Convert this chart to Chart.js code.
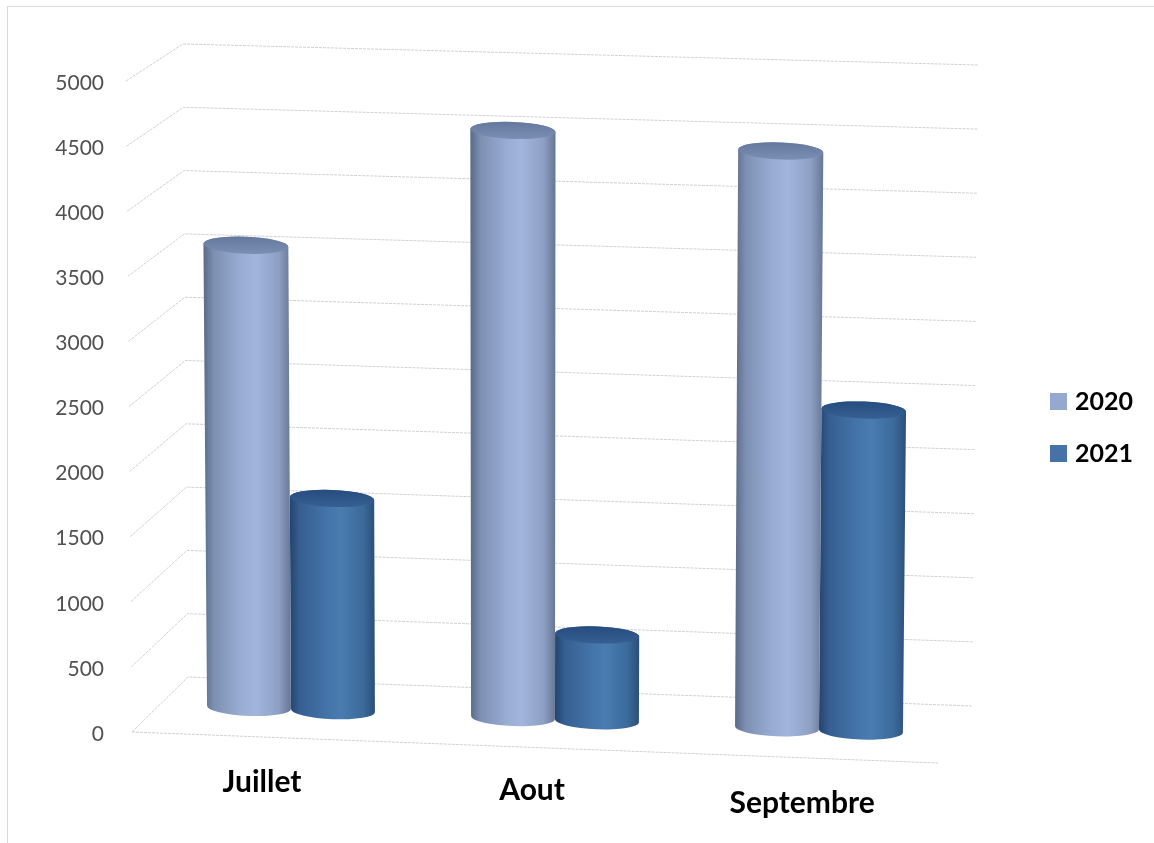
<!DOCTYPE html>
<html>
<head>
<meta charset="utf-8">
<title>Juillet - Septembre</title>
<script src="https://cdn.jsdelivr.net/npm/chart.js@4/dist/chart.umd.min.js"></script>
<style>
    html, body { margin: 0; padding: 0; background: #fff; }
    #frame { position: absolute; left: 7px; top: 6px; width: 1147px; height: 837px; box-sizing: border-box;
             border-left: 1px solid #d9d9d9; border-top: 1px solid #d9d9d9; }
    canvas { position: absolute; left: 0; top: 0; }
</style>
</head>
<body>
<div id="frame"></div>
<canvas id="myChart" width="1154" height="843"></canvas>
<script>
var categories = ['Juillet', 'Aout', 'Septembre'];
var seriesNames = ['2020', '2021'];
var values2020 = [3550, 4510, 4430];
var values2021 = [1630, 660, 2465];
var yTickStep = 500;
var yMax = 5000;

// cylinder shading, left to right
var shade2020 = ['#5a6a88', '#7d90b2', '#98acd4', '#a2b5dd', '#8d9fc3', '#667695'];
var shade2021 = ['#24446d', '#365f92', '#4373a8', '#4a7cb1', '#3b6a9b', '#2b4f78'];
var capTop = ['#64789d', '#274d7f'];
var capBottom = ['#7b8fb4', '#365f92'];
var legendColors = ['#95a9d0', '#4672a8'];
var shadeStops = [0, 0.12, 0.42, 0.6, 0.86, 1];
var labelNudgeY = [0, -2, 0];

var SLOPE = 0.0385; // the whole floor runs downhill to the right
var ZERO_Y = 734;   // scale sits 2px low so the tick text lines up, grid takes it back out
var FULL_H = 651;

function project(x, y) {
    var rise = ZERO_Y - y;
    return {
        x: x + (x - 520) * rise * 0.000025,
        y: y - 31 + (x - 133) * SLOPE
    };
}

// bars are drawn as cylinders, geometry still comes from the bar controller
Chart.BarElement.prototype.draw = function (ctx) {
    var p = this.getProps(['x', 'y', 'base', 'width']);
    var idx = legendColors.indexOf(this.options.backgroundColor);
    var stops = idx === 0 ? shade2020 : shade2021;
    var half = p.width / 2;
    var tl = project(p.x - half, p.y), tr = project(p.x + half, p.y);
    var bl = project(p.x - half, p.base), br = project(p.x + half, p.base);
    var ry = 8.5, tilt = Math.atan(SLOPE);
    var grad = ctx.createLinearGradient(Math.min(tl.x, bl.x), 0, Math.max(tr.x, br.x), 0);
    stops.forEach(function (c, i) { grad.addColorStop(shadeStops[i], c); });

    ctx.save();
    ctx.filter = 'blur(0.7px)';
    ctx.fillStyle = grad;
    ctx.beginPath();
    ctx.moveTo(tl.x, tl.y);
    ctx.lineTo(bl.x, bl.y);
    ctx.ellipse((bl.x + br.x) / 2, (bl.y + br.y) / 2, (br.x - bl.x) / 2, ry, tilt, Math.PI, 0, true);
    ctx.lineTo(tr.x, tr.y);
    ctx.ellipse((tl.x + tr.x) / 2, (tl.y + tr.y) / 2, (tr.x - tl.x) / 2, ry, tilt, 0, Math.PI, true);
    ctx.closePath();
    ctx.fill();

    var cy = (tl.y + tr.y) / 2;
    var capGrad = ctx.createLinearGradient(0, cy - ry, 0, cy + ry);
    capGrad.addColorStop(0, capTop[idx]);
    capGrad.addColorStop(1, capBottom[idx]);
    ctx.fillStyle = capGrad;
    ctx.beginPath();
    ctx.ellipse((tl.x + tr.x) / 2, cy, (tr.x - tl.x) / 2, ry, tilt, 0, Math.PI * 2);
    ctx.fill();
    ctx.restore();
};

var perspectiveGrid = {
    id: 'perspectiveGrid',
    afterLayout: function (chart) {
        // legend sits well right of the plot (its cursor starts at left/top + labels.padding)
        var lg = chart.legend;
        lg.left = 1023; lg.right = 1133; lg.top = 362; lg.bottom = 600;
    },
    beforeDatasetsDraw: function (chart) {
        var ctx = chart.ctx, yScale = chart.scales.y;
        ctx.save();
        ctx.strokeStyle = '#d0d0d0';
        ctx.lineWidth = 1;
        ctx.setLineDash([3, 1]);
        yScale.ticks.forEach(function (tick) {
            var py = yScale.getPixelForValue(tick.value);
            var t = (ZERO_Y - py) / FULL_H;
            ctx.beginPath();
            ctx.moveTo(132 - 6 * t, py - 2);
            ctx.lineTo(188 - 5 * t, 677 - 633 * t);
            ctx.lineTo(972 + 6 * t, 706 - 641 * t);
            ctx.stroke();
        });
        // front edge of the floor
        var py0 = yScale.getPixelForValue(0) - 2;
        ctx.beginPath();
        ctx.moveTo(132, py0);
        ctx.lineTo(938, py0 + 31);
        ctx.stroke();
        ctx.restore();
    },
    afterDraw: function (chart) {
        var ctx = chart.ctx, xScale = chart.scales.x;
        ctx.save();
        ctx.font = 'bold 30px Lato';
        ctx.fillStyle = '#000';
        ctx.textAlign = 'center';
        ctx.textBaseline = 'middle';
        categories.forEach(function (name, i) {
            var cx = xScale.getPixelForTick(i);
            ctx.fillText(name, cx - 29 + (cx - 291) * 0.023, 782 + (cx - 291) * 0.0398 + labelNudgeY[i]);
        });
        ctx.restore();
    }
};

var ctx = document.getElementById('myChart').getContext('2d');
new Chart(ctx, {
    type: 'bar',
    data: {
        labels: categories,
        datasets: [
            { label: seriesNames[0], data: values2020, backgroundColor: legendColors[0], clip: false },
            { label: seriesNames[1], data: values2021, backgroundColor: legendColors[1], clip: false }
        ]
    },
    plugins: [perspectiveGrid],
    options: {
        responsive: false,
        animation: false,
        barPercentage: 1,
        categoryPercentage: 0.636,
        layout: { padding: { top: 83, bottom: 109, left: 0, right: 143 } },
        plugins: {
            tooltip: { enabled: false },
            legend: {
                position: 'right',
                align: 'start',
                maxWidth: 60,
                labels: {
                    boxWidth: 17,
                    boxHeight: 17,
                    padding: 27,
                    textAlign: 'right',
                    color: '#000',
                    font: { family: 'Lato', size: 25, weight: 'bold' }
                }
            }
        },
        scales: {
            x: {
                ticks: { display: false },
                grid: { display: false, drawTicks: false },
                border: { display: false }
            },
            y: {
                min: 0,
                max: yMax,
                afterFit: function (scale) { scale.width = 159; },
                ticks: {
                    stepSize: yTickStep,
                    padding: 55,
                    color: '#505050',
                    font: { family: 'Lato', size: 21 },
                    callback: function (v) { return String(v); }
                },
                grid: { display: false, drawTicks: false },
                border: { display: false }
            }
        }
    }
});
</script>
</body>
</html>
